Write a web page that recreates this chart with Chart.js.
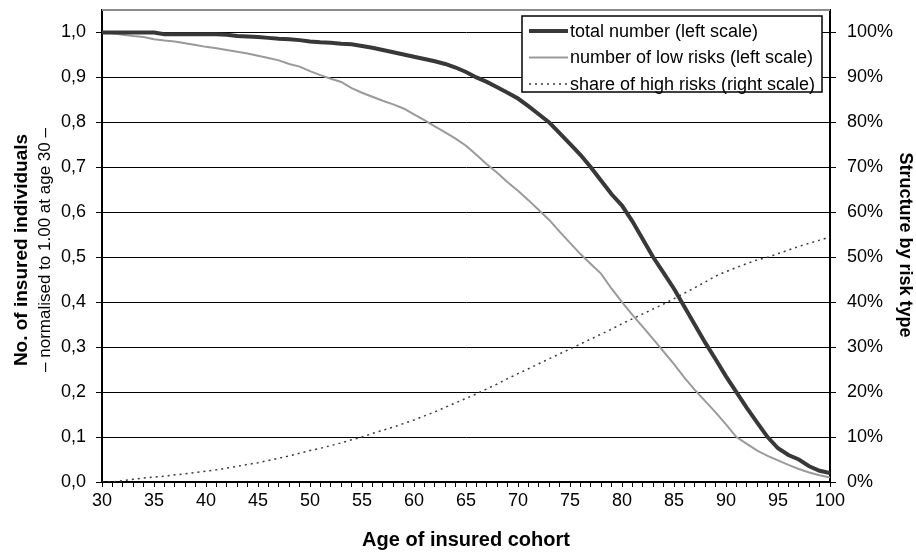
<!DOCTYPE html>
<html lang="en">
<head>
    <meta charset="UTF-8">
    <title>Insured cohort</title>
    <script src="https://cdn.jsdelivr.net/npm/chart.js"></script>
    <style>
        html, body { margin: 0; padding: 0; background: #fff; }
        #wrap { width: 916px; height: 556px; }
    </style>
</head>
<body>
    <div id="wrap">
        <canvas id="myChart" width="916" height="556"></canvas>
    </div>
<script>
    const ages = [30,31,32,33,34,35,36,37,38,39,
                  40,41,42,43,44,45,46,47,48,49,
                  50,51,52,53,54,55,56,57,58,59,
                  60,61,62,63,64,65,66,67,68,69,
                  70,71,72,73,74,75,76,77,78,79,
                  80,81,82,83,84,85,86,87,88,89,
                  90,91,92,93,94,95,96,97,98,99,
                  100];

    // left scale
    const totalNumber = [1.000,1.000,1.000,1.000,1.000,1.000,0.996,0.996,0.996,0.996,
                         0.996,0.996,0.995,0.992,0.991,0.990,0.988,0.986,0.985,0.983,
                         0.980,0.978,0.977,0.975,0.974,0.970,0.966,0.961,0.956,0.951,
                         0.946,0.941,0.936,0.930,0.922,0.912,0.900,0.890,0.878,0.866,
                         0.853,0.836,0.818,0.800,0.776,0.752,0.728,0.700,0.670,0.640,
                         0.615,0.580,0.540,0.500,0.465,0.430,0.390,0.350,0.310,0.273,
                         0.235,0.200,0.165,0.132,0.100,0.075,0.060,0.050,0.035,0.025,
                         0.020];

    const lowRisks = [1.000,0.998,0.995,0.992,0.990,0.985,0.982,0.980,0.976,0.972,
                      0.968,0.965,0.961,0.957,0.953,0.948,0.943,0.938,0.930,0.924,
                      0.914,0.905,0.897,0.890,0.876,0.866,0.857,0.848,0.840,0.831,
                      0.818,0.805,0.791,0.778,0.764,0.748,0.728,0.707,0.688,0.667,
                      0.648,0.627,0.605,0.583,0.557,0.532,0.507,0.485,0.463,0.430,
                      0.400,0.372,0.345,0.318,0.290,0.262,0.232,0.205,0.180,0.155,
                      0.128,0.100,0.085,0.070,0.058,0.048,0.038,0.029,0.021,0.015,
                      0.010];

    // right scale, percent
    const highShare = [0,0,0.3,0.6,0.9,1.1,1.3,1.6,1.8,2.1,
                       2.4,2.7,3.1,3.5,3.9,4.3,4.8,5.3,5.8,6.4,
                       7.0,7.5,8.1,8.7,9.4,10.0,10.8,11.5,12.2,13.0,
                       13.8,14.7,15.6,16.6,17.6,18.6,19.6,20.7,21.8,23.0,
                       24.1,25.2,26.3,27.4,28.5,29.6,30.7,31.8,32.9,34.0,
                       35.2,36.3,37.4,38.5,39.6,40.8,42.0,43.2,44.5,45.8,
                       46.8,47.7,48.6,49.4,50.0,50.8,51.6,52.4,53.1,53.8,
                       54.5];

    const seriesLabels = ['total number (left scale)', 'number of low risks (left scale)', 'share of high risks (right scale)'];
    const xTitle = 'Age of insured cohort';
    const leftTitle = 'No. of insured individuals';
    const leftSubTitle = '\u2013 normalised to 1.00 at age 30 \u2013';
    const rightTitle = 'Structure by risk type';

    const FONT = '"Liberation Sans", Arial, sans-serif';
    Chart.defaults.font.family = FONT;
    Chart.defaults.font.size = 18;
    Chart.defaults.color = '#000';

    function pts(arr) {
        return ages.map((a, i) => ({ x: a, y: arr[i] }));
    }

    // fixed widths and top gap for the value axes
    function fitY(width) {
        return function (scale) {
            scale.width = width;
            scale.paddingTop = 10;
            scale.paddingBottom = 0;
        };
    }

    // titles, top border, legend box, inner ticks of right axis
    const extras = {
        id: 'extras',
        afterDraw(chart) {
            const ctx = chart.ctx;
            const ca = chart.chartArea;
            ctx.save();

            ctx.strokeStyle = '#8c8c8c';
            ctx.lineWidth = 2;
            ctx.beginPath();
            ctx.moveTo(ca.left, ca.top);
            ctx.lineTo(ca.right, ca.top);
            ctx.stroke();

            const y2 = chart.scales.y2;
            ctx.strokeStyle = '#000';
            ctx.lineWidth = 1;
            y2.ticks.forEach(t => {
                const py = Math.round(y2.getPixelForValue(t.value)) + 0.5;
                ctx.beginPath();
                ctx.moveTo(ca.right - 5, py);
                ctx.lineTo(ca.right, py);
                ctx.stroke();
            });

            ctx.fillStyle = '#000';
            ctx.textAlign = 'center';
            ctx.textBaseline = 'middle';

            ctx.font = 'bold 20px ' + FONT;
            ctx.fillText(xTitle, (ca.left + ca.right) / 2, 540);

            ctx.save();
            ctx.translate(22, 250);
            ctx.rotate(-Math.PI / 2);
            ctx.font = 'bold 19px ' + FONT;
            ctx.fillText(leftTitle, 0, 0);
            ctx.restore();

            ctx.save();
            ctx.translate(45, 250);
            ctx.rotate(-Math.PI / 2);
            ctx.font = '17px ' + FONT;
            ctx.fillText(leftSubTitle, 0, 0);
            ctx.restore();

            ctx.save();
            ctx.translate(905, 245);
            ctx.rotate(Math.PI / 2);
            ctx.font = 'bold 18px ' + FONT;
            ctx.fillText(rightTitle, 0, 0);
            ctx.restore();

            // legend
            const bx = 522, by = 16, bw = 300, bh = 76;
            ctx.fillStyle = '#fff';
            ctx.fillRect(bx, by, bw, bh);
            ctx.strokeStyle = '#000';
            ctx.lineWidth = 1.5;
            ctx.strokeRect(bx, by, bw, bh);
            ctx.textAlign = 'left';
            ctx.font = '18px ' + FONT;
            chart.data.datasets.forEach((ds, i) => {
                const ry = by + 15 + i * 26.5;
                ctx.strokeStyle = ds.borderColor;
                ctx.lineWidth = ds.borderWidth;
                ctx.setLineDash(ds.borderDash || []);
                ctx.beginPath();
                ctx.moveTo(bx + 7, ry);
                ctx.lineTo(bx + 46, ry);
                ctx.stroke();
                ctx.setLineDash([]);
                ctx.fillStyle = '#000';
                ctx.fillText(ds.label, bx + 48, ry + 1);
            });
            ctx.restore();
        }
    };

    const data = {
        datasets: [{
            label: seriesLabels[0],
            data: pts(totalNumber),
            borderColor: '#383838',
            borderWidth: 4,
            yAxisID: 'y'
        }, {
            label: seriesLabels[1],
            data: pts(lowRisks),
            borderColor: '#9a9a9a',
            borderWidth: 2,
            yAxisID: 'y'
        }, {
            label: seriesLabels[2],
            data: pts(highShare),
            borderColor: '#3a3a3a',
            borderWidth: 1.5,
            borderDash: [2, 4],
            yAxisID: 'y2'
        }]
    };

    const config = {
        type: 'line',
        data: data,
        plugins: [extras],
        options: {
            responsive: false,
            animation: false,
            layout: { padding: 0 },
            elements: { point: { radius: 0 }, line: { tension: 0 } },
            plugins: { legend: { display: false }, tooltip: { enabled: false } },
            scales: {
                x: {
                    type: 'linear',
                    min: 30,
                    max: 100,
                    afterFit(scale) { scale.height = 74; },
                    ticks: {
                        stepSize: 1,
                        autoSkip: false,
                        maxRotation: 0,
                        padding: 3,
                        callback: v => (v % 5 === 0 ? String(v) : '')
                    },
                    grid: { drawOnChartArea: false, tickLength: 5, color: '#000' },
                    border: { color: '#000', width: 2 }
                },
                y: {
                    position: 'left',
                    min: 0,
                    max: 1.05,
                    afterFit: fitY(102),
                    afterBuildTicks(scale) {
                        scale.ticks = scale.ticks.filter(t => t.value <= 1.0001);
                    },
                    ticks: {
                        stepSize: 0.1,
                        padding: 10,
                        callback: v => v.toFixed(1).replace('.', ',')
                    },
                    grid: { color: '#000', lineWidth: 1, tickLength: 6 },
                    border: { color: '#000', width: 2 }
                },
                y2: {
                    position: 'right',
                    min: 0,
                    max: 105,
                    afterFit: fitY(86),
                    afterBuildTicks(scale) {
                        scale.ticks = scale.ticks.filter(t => t.value <= 100.01);
                    },
                    ticks: {
                        stepSize: 10,
                        padding: 11,
                        callback: v => v + '%'
                    },
                    grid: { drawOnChartArea: false, color: '#000', tickLength: 6 },
                    border: { color: '#000', width: 2 }
                }
            }
        }
    };

    const myChart = new Chart(document.querySelector('#myChart'), config);
</script>
</body>
</html>
